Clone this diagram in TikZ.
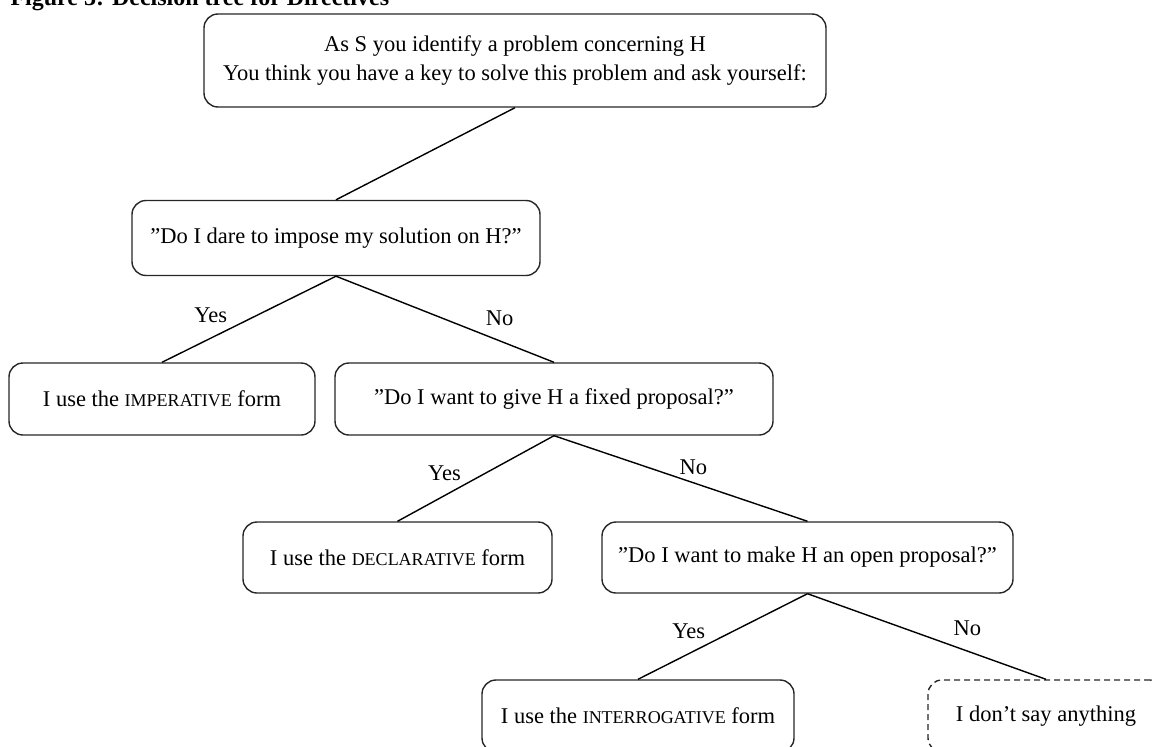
\documentclass[tikz,border=0pt]{standalone}
\usepackage{fontspec}
\setmainfont{Liberation Serif}
\newcommand{\fsc}[1]{{\fontsize{18}{20}\selectfont #1}}

\begin{document}
\begin{tikzpicture}[x=1pt,y=-1pt,
  every node/.style={font=\fontsize{22.5}{27}\selectfont},
  box/.style={draw=black!85,line width=1.4pt,rounded corners=14pt,align=center,inner sep=0pt},
  dashbox/.style={box,dash pattern=on 6pt off 4pt}]
  \useasboundingbox (0,0) rectangle (1152,747);
  \clip (0,0) rectangle (1152,747);

  \node[anchor=base west,font=\fontsize{24}{28}\selectfont\bfseries] (0) at (7,5) {Figure 3: Decision tree for Directives};

  \node[box,minimum width=622,minimum height=93,font=\fontsize{22.5}{29}\selectfont] (1) at (515,60.5)
    {As S you identify a problem concerning H\\You think you have a key to solve this problem and ask yourself:};
  \node[box,minimum width=408,minimum height=75] (2) at (336,238) {''Do I dare to impose my solution on H?''};
  \node[box,minimum width=306,minimum height=72] (3) at (162,399) {I use the \fsc{IMPERATIVE} form};
  \node[box,minimum width=438,minimum height=72] (4) at (554,399) {''Do I want to give H a fixed proposal?''};
  \node[box,minimum width=309,minimum height=71] (5) at (397.5,557.5) {I use the \fsc{DECLARATIVE} form};
  \node[box,minimum width=411,minimum height=71] (6) at (807.5,557.5) {''Do I want to make H an open proposal?''};
  \node[box,minimum width=312,minimum height=72] (7) at (638,716) {I use the \fsc{INTERROGATIVE} form};
  \node[dashbox,minimum width=236,minimum height=72] (8) at (1046,716) {I don't say anything};

  \path[every node/.style={font=\fontsize{22.5}{27}\selectfont}]
  (1.south) [black,line width=1.4pt] edge (2.north)
  (2.south) edge node [pos=0.72,above=11pt] {Yes} (3.north)
  (2.south) edge node [pos=0.75,above=11pt] {No} (4.north)
  (4.south) edge node [pos=0.7,above=11pt] {Yes} (5.north)
  (4.south) edge node [pos=0.55,above=4pt] {No} (6.north)
  (6.south) edge node [pos=0.7,above=11pt] {Yes} (7.north)
  (6.south) edge node [pos=0.67,above=11pt] {No} (8.north);
\end{tikzpicture}
\end{document}
